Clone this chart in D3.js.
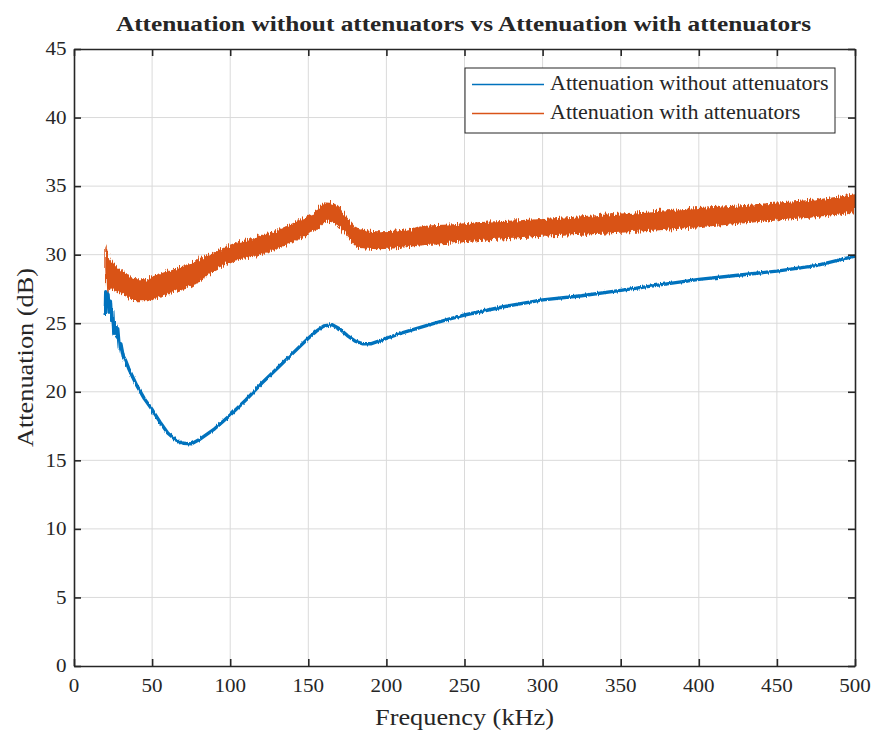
<!DOCTYPE html>
<html>
<head>
<meta charset="utf-8">
<script src="https://cdn.jsdelivr.net/npm/d3@7"></script>
<style>
  html, body { margin: 0; padding: 0; background: #ffffff; }
  svg { display: block; }
  text { font-family: "Liberation Serif", "DejaVu Serif", serif; fill: #262626; }
</style>
</head>
<body>
<svg id="chart" width="872" height="731"></svg>
<script>
// Frequency (kHz) / attenuation (dB) without attenuators
const freqNoAtt = [20, 20.3, 21, 21.8, 22.5, 23.3, 24, 24.8, 25.5, 26.3, 27.2, 28, 29, 30, 31.5, 33, 35,
  40, 45, 50, 55, 60, 65, 70, 75, 80, 85, 90, 95, 100, 110, 120, 130, 140, 150, 155, 160, 165, 170,
  175, 180, 185, 190, 200, 210, 225, 240, 250, 275, 300, 325, 350, 375, 400, 425, 450, 475, 500];
const attNoAtt = [25.6, 27.3, 26.5, 27.1, 25.8, 26.6, 25.2, 25.9, 24.2, 24.9, 24.0, 24.6, 23.2, 23.5, 22.6, 22.3, 21.7,
  20.5, 19.5, 18.7, 17.8, 17.0, 16.5, 16.25, 16.2, 16.5, 16.9, 17.3, 17.8, 18.3, 19.4, 20.6, 21.7, 22.8, 23.9, 24.4, 24.8, 24.9, 24.6,
  24.1, 23.7, 23.5, 23.5, 23.9, 24.3, 24.8, 25.3, 25.6, 26.2, 26.7, 27.0, 27.4, 27.8, 28.2, 28.5, 28.8, 29.2, 29.9];

// Attenuation with attenuators: noisy trace, given as its lower and upper envelope
const freqWithAtt = [20, 21, 23, 25, 30, 35, 40, 45, 50, 60, 75, 90, 100, 120, 140, 155, 162, 168, 175, 182,
  195, 210, 225, 240, 250, 300, 350, 400, 450, 480, 500];
const attWithAttHigh = [30.7, 30.4, 29.6, 29.4, 28.9, 28.5, 28.2, 28.2, 28.4, 28.8, 29.4, 30.2, 30.7, 31.4, 32.3, 33.2, 33.8, 33.6, 32.7, 31.9,
  31.7, 31.8, 32.1, 32.2, 32.3, 32.6, 33.0, 33.4, 33.8, 34.1, 34.4];
const attWithAttLow = [29.0, 27.0, 27.6, 27.4, 27.2, 26.8, 26.6, 26.6, 26.7, 27.1, 27.7, 28.8, 29.4, 30.0, 30.9, 31.8, 32.4, 32.2, 31.3, 30.5,
  30.4, 30.5, 30.7, 30.8, 30.9, 31.3, 31.6, 32.0, 32.5, 32.8, 33.1];

const xTicks = [0, 50, 100, 150, 200, 250, 300, 350, 400, 450, 500];
const yTicks = [0, 5, 10, 15, 20, 25, 30, 35, 40, 45];
const seriesNames = ["Attenuation without attenuators", "Attenuation with attenuators"];
const seriesColors = ["#0072BD", "#D95319"];

const margin = { left: 74, right: 17, top: 49, bottom: 65 };
const W = 872, H = 731;
const iw = W - margin.left - margin.right;
const ih = H - margin.top - margin.bottom;

const svg = d3.select("#chart");
const defs = svg.append("defs");
const g = svg.append("g").attr("transform", `translate(${margin.left},${margin.top})`);

const x = d3.scaleLinear().domain([0, 500]).range([0, iw]);
const y = d3.scaleLinear().domain([0, 45]).range([ih, 0]);

// Wide book-style serif: Liberation Serif stretched horizontally
const STRETCH = 1.14;
function label(parent, px, py, str, size, opts = {}) {
  const grp = parent.append("g")
    .attr("transform", `translate(${px},${py}) rotate(${opts.rotate || 0}) scale(${opts.sx || STRETCH},1)`);
  return grp.append("text")
    .attr("text-anchor", opts.anchor || "start")
    .style("font-size", size + "px")
    .style("font-weight", opts.bold ? "bold" : "normal")
    .text(str);
}

// grid
g.append("g").selectAll("line").data(xTicks.slice(1, -1)).join("line")
  .attr("x1", d => x(d)).attr("x2", d => x(d)).attr("y1", 0).attr("y2", ih)
  .attr("stroke", "#dadada").attr("stroke-width", 1);
g.append("g").selectAll("line").data(yTicks.slice(1, -1)).join("line")
  .attr("y1", d => y(d)).attr("y2", d => y(d)).attr("x1", 0).attr("x2", iw)
  .attr("stroke", "#dadada").attr("stroke-width", 1);

// data
defs.append("clipPath").attr("id", "plotclip")
  .append("rect").attr("x", 0).attr("y", 0).attr("width", iw).attr("height", ih);

// jittered edge textures for the measured traces
function roughFilter(id, scale) {
  const f = defs.append("filter").attr("id", id)
    .attr("x", "-2%").attr("y", "-30%").attr("width", "104%").attr("height", "160%");
  f.append("feTurbulence").attr("type", "fractalNoise").attr("baseFrequency", "0.9 0.04")
    .attr("numOctaves", 2).attr("seed", 7).attr("result", "noise");
  f.append("feDisplacementMap").attr("in", "SourceGraphic").attr("in2", "noise")
    .attr("scale", scale).attr("xChannelSelector", "R").attr("yChannelSelector", "G");
}
roughFilter("rough", 9);
roughFilter("roughFine", 3);

const plot = g.append("g").attr("clip-path", "url(#plotclip)");

const bandData = freqWithAtt.map((f, i) => ({ f, lo: attWithAttLow[i], hi: attWithAttHigh[i] }));
plot.append("g").attr("filter", "url(#rough)")
  .append("path").datum(bandData)
  .attr("d", d3.area().x(d => x(d.f)).y0(d => y(d.lo)).y1(d => y(d.hi)).curve(d3.curveMonotoneX))
  .attr("fill", seriesColors[1]);

const lineData = freqNoAtt.map((f, i) => ({ f, v: attNoAtt[i] }));
plot.append("g").attr("filter", "url(#roughFine)")
  .append("path").datum(lineData)
  .attr("d", d3.line().x(d => x(d.f)).y(d => y(d.v)))
  .attr("fill", "none").attr("stroke", seriesColors[0]).attr("stroke-width", 3.4)
  .attr("stroke-linejoin", "round");

// axes (box style: ticks inside, mirrored on top and right)
const axisColor = "#262626";
const tickLen = 7;
const fmt = d3.format("d");

const xb = g.append("g").attr("transform", `translate(0,${ih})`)
  .call(d3.axisBottom(x).tickValues(xTicks).tickFormat("").tickSizeInner(-tickLen).tickSizeOuter(0));
const xt = g.append("g")
  .call(d3.axisTop(x).tickValues(xTicks).tickFormat("").tickSizeInner(-tickLen).tickSizeOuter(0));
const yl = g.append("g")
  .call(d3.axisLeft(y).tickValues(yTicks).tickFormat("").tickSizeInner(-tickLen).tickSizeOuter(0));
const yr = g.append("g").attr("transform", `translate(${iw},0)`)
  .call(d3.axisRight(y).tickValues(yTicks).tickFormat("").tickSizeInner(-tickLen).tickSizeOuter(0));

[xb, xt, yl, yr].forEach(a => {
  a.select(".domain").attr("stroke", axisColor).attr("stroke-width", 1.6);
  a.selectAll(".tick line").attr("stroke", axisColor).attr("stroke-width", 1.6);
});

// tick labels
xTicks.forEach(t => label(g, x(t), ih + 25.5, fmt(t), 18.5, { anchor: "middle" }));
yTicks.forEach(t => label(g, -7.5, y(t) + 6.3, fmt(t), 18.5, { anchor: "end" }));

// axis labels and title
label(svg, margin.left + iw / 2, 725, "Frequency (kHz)", 22.5, { anchor: "middle", sx: 1.17 });
label(svg, 33, margin.top + ih / 2, "Attenuation (dB)", 22.5, { anchor: "middle", sx: 1.17, rotate: -90 });
label(svg, margin.left + iw / 2 - 1, 30.5, "Attenuation without attenuators vs Attenuation with attenuators", 22,
  { anchor: "middle", bold: true, sx: 1.15 });

// legend
const lg = svg.append("g").attr("transform", "translate(465,68)");
lg.append("rect").attr("width", 370).attr("height", 65)
  .attr("fill", "#ffffff").attr("stroke", axisColor).attr("stroke-width", 1);
seriesNames.forEach((name, i) => {
  const cy = 16.5 + i * 29;
  lg.append("line").attr("x1", 7).attr("x2", 79).attr("y1", cy).attr("y2", cy)
    .attr("stroke", seriesColors[i]).attr("stroke-width", 1.3);
  label(lg, 85, cy + 5.5, name, 20, { sx: 1.1 });
});
</script>
</body>
</html>
